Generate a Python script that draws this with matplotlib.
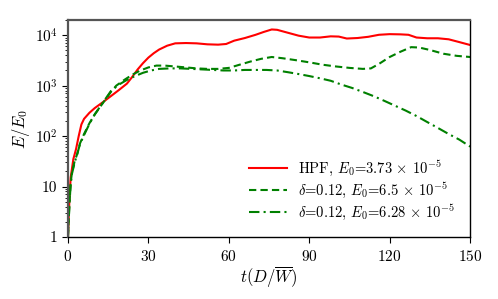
import numpy as np
import matplotlib
matplotlib.use('Agg')
import matplotlib.pyplot as plt
from matplotlib.ticker import FuncFormatter, LogLocator, NullFormatter

plt.rcParams['font.family'] = 'serif'
plt.rcParams['font.serif'] = ['cmr10']
plt.rcParams['mathtext.fontset'] = 'cm'
plt.rcParams['axes.unicode_minus'] = False
plt.rcParams['axes.formatter.use_mathtext'] = True

# HPF
t_hpf = [0, 0.5, 1, 2, 3, 4, 5, 6, 8, 10, 13, 16, 19, 22, 24, 26, 28, 30, 32, 34, 37, 40,
         44, 48, 52, 56, 59, 62, 66, 70, 73, 76, 78, 82, 86, 90, 94, 98, 101, 104,
         108, 112, 116, 120, 124, 127, 130, 134, 138, 142, 146, 150]
e_hpf = [1, 5, 15, 35, 55, 100, 170, 220, 290, 360, 470, 620, 820, 1100, 1500, 2100, 2800,
         3600, 4400, 5200, 6200, 6900, 7000, 6900, 6600, 6500, 6700, 7800, 8800, 10200,
         11600, 13000, 12800, 11200, 9800, 9000, 9000, 9500, 9400, 8600, 8800, 9300,
         10200, 10500, 10400, 10200, 9000, 8700, 8700, 8300, 7300, 6400]

# delta=0.12, E0=6.5e-5
t_d1 = [0, 0.5, 1, 1.5, 2.5, 3.5, 4.5, 6, 8, 10, 13, 16, 18, 21, 24, 27, 30, 33, 36,
        40, 44, 48, 52, 56, 60, 64, 68, 72, 76, 80, 85, 90, 95, 100, 105, 110, 113,
        116, 120, 124, 128, 131, 135, 140, 145, 150]
e_d1 = [1, 4, 12, 19, 32, 45, 72, 110, 180, 270, 450, 750, 1000, 1300, 1650, 2000,
        2300, 2500, 2500, 2400, 2300, 2200, 2150, 2150, 2250, 2600, 3000, 3400, 3700,
        3500, 3200, 2900, 2600, 2400, 2250, 2150, 2200, 2700, 3700, 4700, 5800, 5700,
        5100, 4300, 3900, 3700]

# delta=0.12, E0=6.28e-5
t_d2 = [0, 0.5, 1, 1.5, 2.5, 3.5, 4.5, 6, 8, 10, 13, 16, 19, 22, 25, 28, 31, 34, 38,
        42, 46, 50, 54, 58, 62, 66, 70, 74, 78, 82, 86, 90, 94, 98, 102, 106, 110,
        114, 118, 122, 126, 130, 134, 138, 142, 146, 150]
e_d2 = [1, 4, 11, 18, 30, 45, 70, 105, 175, 270, 460, 780, 1050, 1300, 1550, 1800,
        2000, 2150, 2200, 2200, 2150, 2100, 2050, 2000, 2000, 2050, 2050, 2050, 2000,
        1850, 1700, 1550, 1400, 1250, 1050, 900, 750, 620, 500, 400, 320, 250, 190,
        145, 110, 85, 62]

labels = [r'HPF, $E_0$=3.73$\,\times\,10^{-5}$',
          r'$\delta$=0.12, $E_0$=6.5$\,\times\,10^{-5}$',
          r'$\delta$=0.12, $E_0$=6.28$\,\times\,10^{-5}$']

fig = plt.figure(figsize=(4.98, 2.99), dpi=100)
ax = fig.add_axes([0.1365, 0.2074, 0.8075, 0.7256])

ax.plot(t_hpf, e_hpf, color='red', lw=1.5, label=labels[0])
ax.plot(t_d1, e_d1, color='green', lw=1.5, ls=(0, (3.5, 2)), label=labels[1])
ax.plot(t_d2, e_d2, color='green', lw=1.5, ls=(0, (5, 2, 1, 2)), label=labels[2])

ax.set_yscale('log')
ax.set_xlim(0, 150)
ax.set_ylim(1, 2e4)
ax.set_xticks([0, 30, 60, 90, 120, 150])
ax.yaxis.set_major_locator(LogLocator(base=10, numticks=10))
ax.yaxis.set_minor_locator(LogLocator(base=10, subs=np.arange(2, 10), numticks=10))
ax.yaxis.set_minor_formatter(NullFormatter())

def yfmt(v, pos):
    if v == 1:
        return '1'
    if v == 10:
        return '10'
    return r'$10^{%d}$' % int(round(np.log10(v)))

ax.yaxis.set_major_formatter(FuncFormatter(yfmt))
ax.tick_params(labelsize=11)
ax.tick_params(which='major', length=4)
ax.tick_params(which='minor', length=2.5)
ax.tick_params(axis='x', pad=4.5)

for s in ['top', 'left']:
    ax.spines[s].set_color('#555555')
    ax.spines[s].set_linewidth(1.6)
for s in ['right', 'bottom']:
    ax.spines[s].set_color('black')
    ax.spines[s].set_linewidth(1.0)

ax.set_xlabel(r'$t(D/\overline{W})$', fontsize=12, labelpad=1)
ax.set_ylabel(r'$E/E_0$', fontsize=12, labelpad=2)

ax.legend(loc='lower right', frameon=False, fontsize=10.5, handlelength=2.6,
          borderaxespad=0.6, labelspacing=0.2)

fig.savefig('out.png', dpi=100)
